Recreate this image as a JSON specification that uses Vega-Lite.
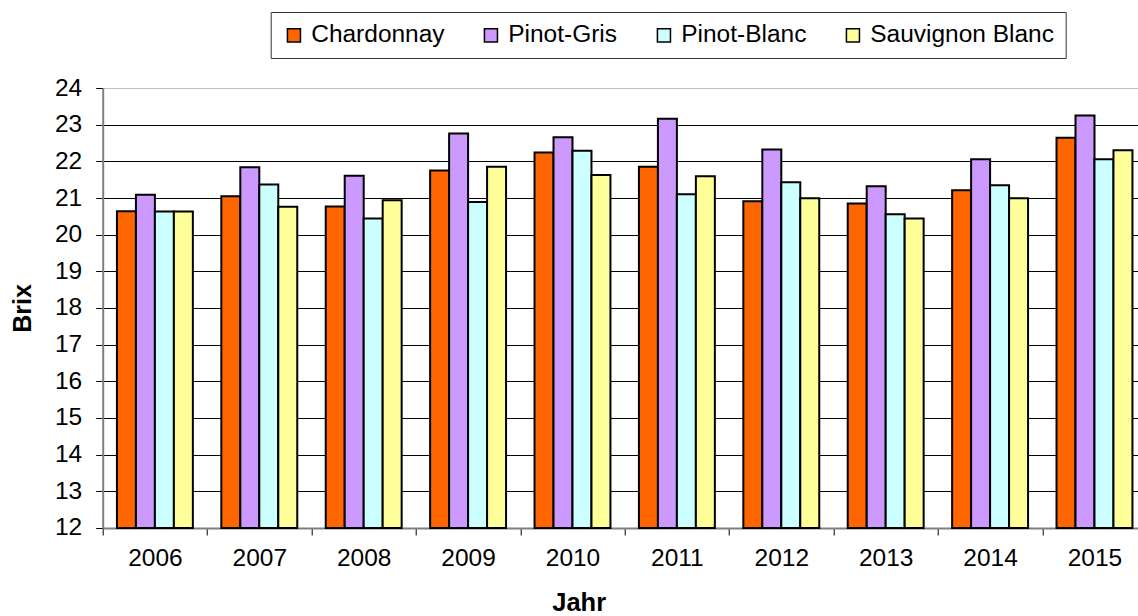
{
  "$schema": "https://vega.github.io/schema/vega-lite/v6.json",
  "width": 1035,
  "height": 440,
  "autosize": "none",
  "padding": {"left": 102.7, "top": 88, "right": 0, "bottom": 88},
  "background": "white",
  "config": {"view": {"stroke": null}, "font": "Liberation Sans"},
  "data": {"values": [
    {"Jahr": "2006", "Sorte": "Chardonnay", "Brix": 20.64},
    {"Jahr": "2006", "Sorte": "Pinot-Gris", "Brix": 21.09},
    {"Jahr": "2006", "Sorte": "Pinot-Blanc", "Brix": 20.63},
    {"Jahr": "2006", "Sorte": "Sauvignon Blanc", "Brix": 20.63},
    {"Jahr": "2007", "Sorte": "Chardonnay", "Brix": 21.05},
    {"Jahr": "2007", "Sorte": "Pinot-Gris", "Brix": 21.84},
    {"Jahr": "2007", "Sorte": "Pinot-Blanc", "Brix": 21.37},
    {"Jahr": "2007", "Sorte": "Sauvignon Blanc", "Brix": 20.76},
    {"Jahr": "2008", "Sorte": "Chardonnay", "Brix": 20.77},
    {"Jahr": "2008", "Sorte": "Pinot-Gris", "Brix": 21.61},
    {"Jahr": "2008", "Sorte": "Pinot-Blanc", "Brix": 20.44},
    {"Jahr": "2008", "Sorte": "Sauvignon Blanc", "Brix": 20.94},
    {"Jahr": "2009", "Sorte": "Chardonnay", "Brix": 21.75},
    {"Jahr": "2009", "Sorte": "Pinot-Gris", "Brix": 22.76},
    {"Jahr": "2009", "Sorte": "Pinot-Blanc", "Brix": 20.89},
    {"Jahr": "2009", "Sorte": "Sauvignon Blanc", "Brix": 21.85},
    {"Jahr": "2010", "Sorte": "Chardonnay", "Brix": 22.24},
    {"Jahr": "2010", "Sorte": "Pinot-Gris", "Brix": 22.66},
    {"Jahr": "2010", "Sorte": "Pinot-Blanc", "Brix": 22.29},
    {"Jahr": "2010", "Sorte": "Sauvignon Blanc", "Brix": 21.63},
    {"Jahr": "2011", "Sorte": "Chardonnay", "Brix": 21.85},
    {"Jahr": "2011", "Sorte": "Pinot-Gris", "Brix": 23.16},
    {"Jahr": "2011", "Sorte": "Pinot-Blanc", "Brix": 21.10},
    {"Jahr": "2011", "Sorte": "Sauvignon Blanc", "Brix": 21.59},
    {"Jahr": "2012", "Sorte": "Chardonnay", "Brix": 20.91},
    {"Jahr": "2012", "Sorte": "Pinot-Gris", "Brix": 22.32},
    {"Jahr": "2012", "Sorte": "Pinot-Blanc", "Brix": 21.43},
    {"Jahr": "2012", "Sorte": "Sauvignon Blanc", "Brix": 20.99},
    {"Jahr": "2013", "Sorte": "Chardonnay", "Brix": 20.85},
    {"Jahr": "2013", "Sorte": "Pinot-Gris", "Brix": 21.32},
    {"Jahr": "2013", "Sorte": "Pinot-Blanc", "Brix": 20.56},
    {"Jahr": "2013", "Sorte": "Sauvignon Blanc", "Brix": 20.44},
    {"Jahr": "2014", "Sorte": "Chardonnay", "Brix": 21.21},
    {"Jahr": "2014", "Sorte": "Pinot-Gris", "Brix": 22.06},
    {"Jahr": "2014", "Sorte": "Pinot-Blanc", "Brix": 21.35},
    {"Jahr": "2014", "Sorte": "Sauvignon Blanc", "Brix": 20.99},
    {"Jahr": "2015", "Sorte": "Chardonnay", "Brix": 22.64},
    {"Jahr": "2015", "Sorte": "Pinot-Gris", "Brix": 23.25},
    {"Jahr": "2015", "Sorte": "Pinot-Blanc", "Brix": 22.06},
    {"Jahr": "2015", "Sorte": "Sauvignon Blanc", "Brix": 22.30}
  ]},
  "mark": {"type": "bar", "stroke": "black", "strokeWidth": 2},
  "encoding": {
    "x": {
      "field": "Jahr", "type": "nominal",
      "scale": {"range": [0, 1044], "paddingInner": 0, "paddingOuter": 0},
      "axis": {
        "labelAngle": 0, "tickBand": "extent", "tickSize": 7, "tickColor": "black",
        "domainColor": "#808080", "domainWidth": 2,
        "labelFontSize": 24.5, "labelColor": "black", "labelPadding": 12,
        "title": "Jahr", "titleFontSize": 25.5, "titleFontWeight": "bold", "titleColor": "black",
        "titleX": 476, "titleY": 83, "titleBaseline": "alphabetic", "titleAlign": "center"
      }
    },
    "xOffset": {
      "field": "Sorte", "type": "nominal",
      "sort": ["Chardonnay", "Pinot-Gris", "Pinot-Blanc", "Sauvignon Blanc"],
      "scale": {"paddingInner": 0, "paddingOuter": 0.75}
    },
    "y": {
      "field": "Brix", "type": "quantitative",
      "scale": {"domain": [12, 24], "nice": false, "zero": false},
      "axis": {
        "values": [12, 13, 14, 15, 16, 17, 18, 19, 20, 21, 22, 23, 24],
        "grid": true,
        "gridColor": {"condition": {"test": "datum.value == 24", "value": "#c0c0c0"}, "value": "#000000"},
        "gridWidth": 1,
        "domainColor": "#808080", "domainWidth": 2,
        "tickColor": "black", "tickSize": 7,
        "labelFontSize": 24.5, "labelColor": "black", "labelPadding": 14,
        "title": "Brix", "titleFontSize": 25, "titleFontWeight": "bold", "titleColor": "black",
        "titleAngle": -90, "titleX": -80, "titleY": 220, "titleBaseline": "middle", "titleAlign": "center"
      }
    },
    "y2": {"datum": 12},
    "color": {
      "field": "Sorte", "type": "nominal",
      "sort": ["Chardonnay", "Pinot-Gris", "Pinot-Blanc", "Sauvignon Blanc"],
      "scale": {
        "domain": ["Chardonnay", "Pinot-Gris", "Pinot-Blanc", "Sauvignon Blanc"],
        "range": ["#FF6600", "#CC99FF", "#CCFFFF", "#FFFF99"]
      },
      "legend": {
        "title": null, "orient": "none", "legendX": 168, "legendY": -76,
        "direction": "horizontal", "columns": 4, "columnPadding": 34,
        "strokeColor": "#333333", "fillColor": "white", "padding": 11,
        "symbolType": "square", "symbolSize": 170, "symbolStrokeColor": "black", "symbolStrokeWidth": 1.5,
        "symbolOpacity": 1,
        "labelFontSize": 24.5, "labelColor": "black", "labelOffset": 5, "labelLimit": 300
      }
    }
  }
}
